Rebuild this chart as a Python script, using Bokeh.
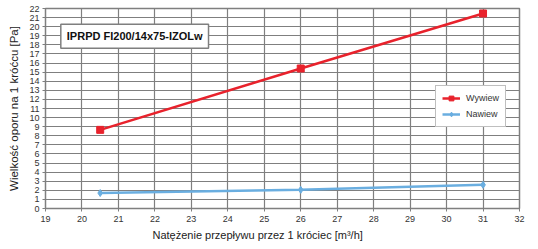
from bokeh.plotting import figure
from bokeh.models import Label, Legend, LegendItem, FixedTicker, Title
from bokeh.embed import file_html
from bokeh.resources import INLINE

flow_wywiew = [20.5, 26.0, 31.0]
pres_wywiew = [8.65, 15.4, 21.45]
flow_nawiew = [20.5, 26.0, 31.0]
pres_nawiew = [1.7, 2.05, 2.6]
x_ticks = list(range(19, 33))
y_ticks = list(range(0, 23))

RED = "#e8222c"
BLUE = "#6aaee0"
GRID = "#7f7f7f"
FONT = "Liberation Sans"

p = figure(width=538, height=249, x_range=(19, 32), y_range=(0, 22),
           output_backend="svg", toolbar_location=None,
           min_border_left=45, min_border_right=19, min_border_top=8, min_border_bottom=41)

p.outline_line_color = GRID
p.outline_line_width = 1.5
for g in (p.xgrid, p.ygrid):
    g.grid_line_color = GRID
    g.grid_line_width = 1.2
    g.grid_line_alpha = 1

p.xaxis.ticker = FixedTicker(ticks=x_ticks)
p.yaxis.ticker = FixedTicker(ticks=y_ticks)
p.xgrid.ticker = FixedTicker(ticks=x_ticks)
p.ygrid.ticker = FixedTicker(ticks=y_ticks)

for ax in (p.xaxis, p.yaxis):
    ax.axis_line_color = GRID
    ax.major_tick_line_color = GRID
    ax.major_tick_in = 0
    ax.major_tick_out = 3
    ax.minor_tick_line_color = None
    ax.major_label_text_font = FONT
    ax.major_label_text_font_size = "9px"
    ax.major_label_text_color = "#333333"
    ax.axis_label_text_font = FONT
    ax.axis_label_text_font_size = "11.5px"
    ax.axis_label_text_font_style = "normal"
    ax.axis_label_text_color = "#222222"

p.yaxis.major_label_standoff = 3
p.xaxis.major_label_standoff = 4
p.yaxis.axis_label = "Wielkość oporu na 1 króćcu [Pa]"
p.yaxis.axis_label_standoff = 6

xtitle = Title(text="Natężenie przepływu przez 1 króciec [m³/h]", align="left", offset=107,
               text_font=FONT, text_font_size="11px", text_font_style="normal",
               text_color="#222222", standoff=4)
p.add_layout(xtitle, "below")

lw = p.line(flow_wywiew, pres_wywiew, line_color=RED, line_width=2.5)
mw = p.scatter(flow_wywiew, pres_wywiew, marker="square", size=7, fill_color=RED, line_color=RED)
ln = p.line(flow_nawiew, pres_nawiew, line_color=BLUE, line_width=2.5)
mn = p.scatter(flow_nawiew, pres_nawiew, marker="diamond", size=7, fill_color=BLUE, line_color=BLUE)

legend = Legend(items=[LegendItem(label="Wywiew", renderers=[lw, mw]),
                       LegendItem(label="Nawiew", renderers=[ln, mn])],
                location=(390, 81), label_text_font=FONT, label_text_font_size="9px",
                label_text_color="#333333", glyph_width=18, glyph_height=12,
                border_line_color=GRID, border_line_width=1.5, padding=6, spacing=4,
                label_standoff=6, margin=0, background_fill_alpha=1)
p.add_layout(legend, "center")

title_text = "IPRPD FI200/14x75-IZOLw"
shadow = Label(x=19.42, y=18.95, x_offset=2, y_offset=-2, text=title_text, text_font=FONT,
               text_font_size="11px", text_font_style="bold", text_alpha=0,
               text_baseline="middle", border_line_color=None,
               background_fill_color="#b0b0b0", padding=6)
p.add_layout(shadow)
title = Label(x=19.42, y=18.95, text=title_text, text_font=FONT,
              text_font_size="11px", text_font_style="bold", text_color="#111111",
              text_baseline="middle", border_line_color=GRID, border_line_width=1.5,
              background_fill_color="white", padding=6)
p.add_layout(title)

open("out.html", "w").write(file_html(p, INLINE))
